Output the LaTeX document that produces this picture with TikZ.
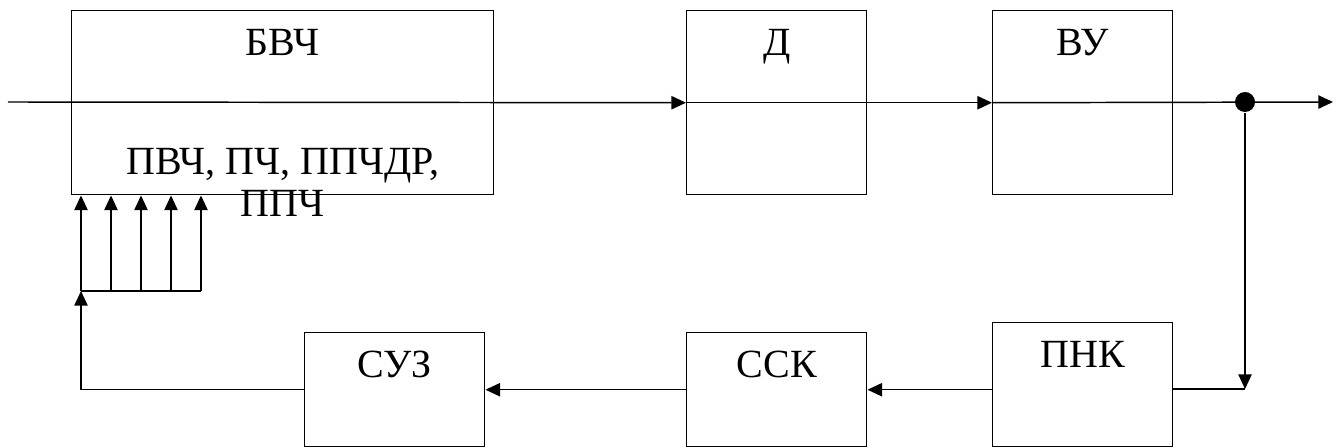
\documentclass[tikz,border=0pt]{standalone}
\usepackage{fontspec}
\setmainfont{Liberation Serif}
\usetikzlibrary{positioning}
\usetikzlibrary{arrows.meta,calc}

\begin{document}
\begin{tikzpicture}[
      x=0.75pt,y=-0.75pt,
      line width=1.1pt,
      font=\fontsize{30}{31.5}\selectfont,
      block/.style={draw,anchor=north west,inner sep=0pt,minimum width=135pt},
      caption/.style={inner sep=0pt,align=center},
      arrow/.style={-{Triangle[length=11pt,width=10pt]}},
      dot/.style={circle,fill,inner sep=0pt,minimum size=15pt}
      ]
      \useasboundingbox (0,0) rectangle (1341,448);

      % upper chain
      \node[block, minimum width=316.5pt, minimum height=138pt] (bvch) at (71,10) {};
      \node[block, minimum height=138pt] (d) at (686,10) {};
      \node[block, minimum height=138pt] (vu) at (992,10) {};

      % lower chain
      \node[block, minimum height=93pt] (pnk) at (992,322) {};
      \node[block, minimum height=85.5pt] (ssk) at (686,332) {};
      \node[block, minimum height=85.5pt] (suz) at (304,332) {};

      \node[caption, below=14pt of bvch.north] (bvch-t) {БВЧ};
      \node[caption, below=103pt of bvch.north] (bvch-b) {ПВЧ, ПЧ, ППЧДР,\\ППЧ};
      \node[caption, below=14pt of d.north] (d-t) {Д};
      \node[caption, below=14pt of vu.north] (vu-t) {ВУ};
      \node[caption, below=14pt of pnk.north] (pnk-t) {ПНК};
      \node[caption, below=14pt of ssk.north] (ssk-t) {ССК};
      \node[caption, below=14pt of suz.north] (suz-t) {СУЗ};

      \coordinate (in) at (8,102);
      \coordinate (out) at (1333,102);
      \node[dot] (tap) at (1245,102) {};
      \coordinate (turn) at (1245,389);
      \coordinate (bus) at (81,291);

      \draw[arrow] (in) -- (d.west);
      \draw[arrow] (d.west) -- (vu.west);
      \draw[arrow] (vu.west) -- (out);
      \draw[arrow] (tap) -- (turn);
      \draw (pnk.east |- turn) -- (turn);
      \draw[arrow] (pnk.west |- ssk.east) -- (ssk.east);
      \draw[arrow] (ssk.west) -- (suz.east);
      \draw[arrow] (suz.west) -- (bus |- suz.west) -- (bus);
      \draw (bus) -- (201,291);
      \foreach \x in {81,111,141,171,201}
        \draw[arrow] (\x,291) -- (\x,291 |- bvch.south);
\end{tikzpicture}
\end{document}
